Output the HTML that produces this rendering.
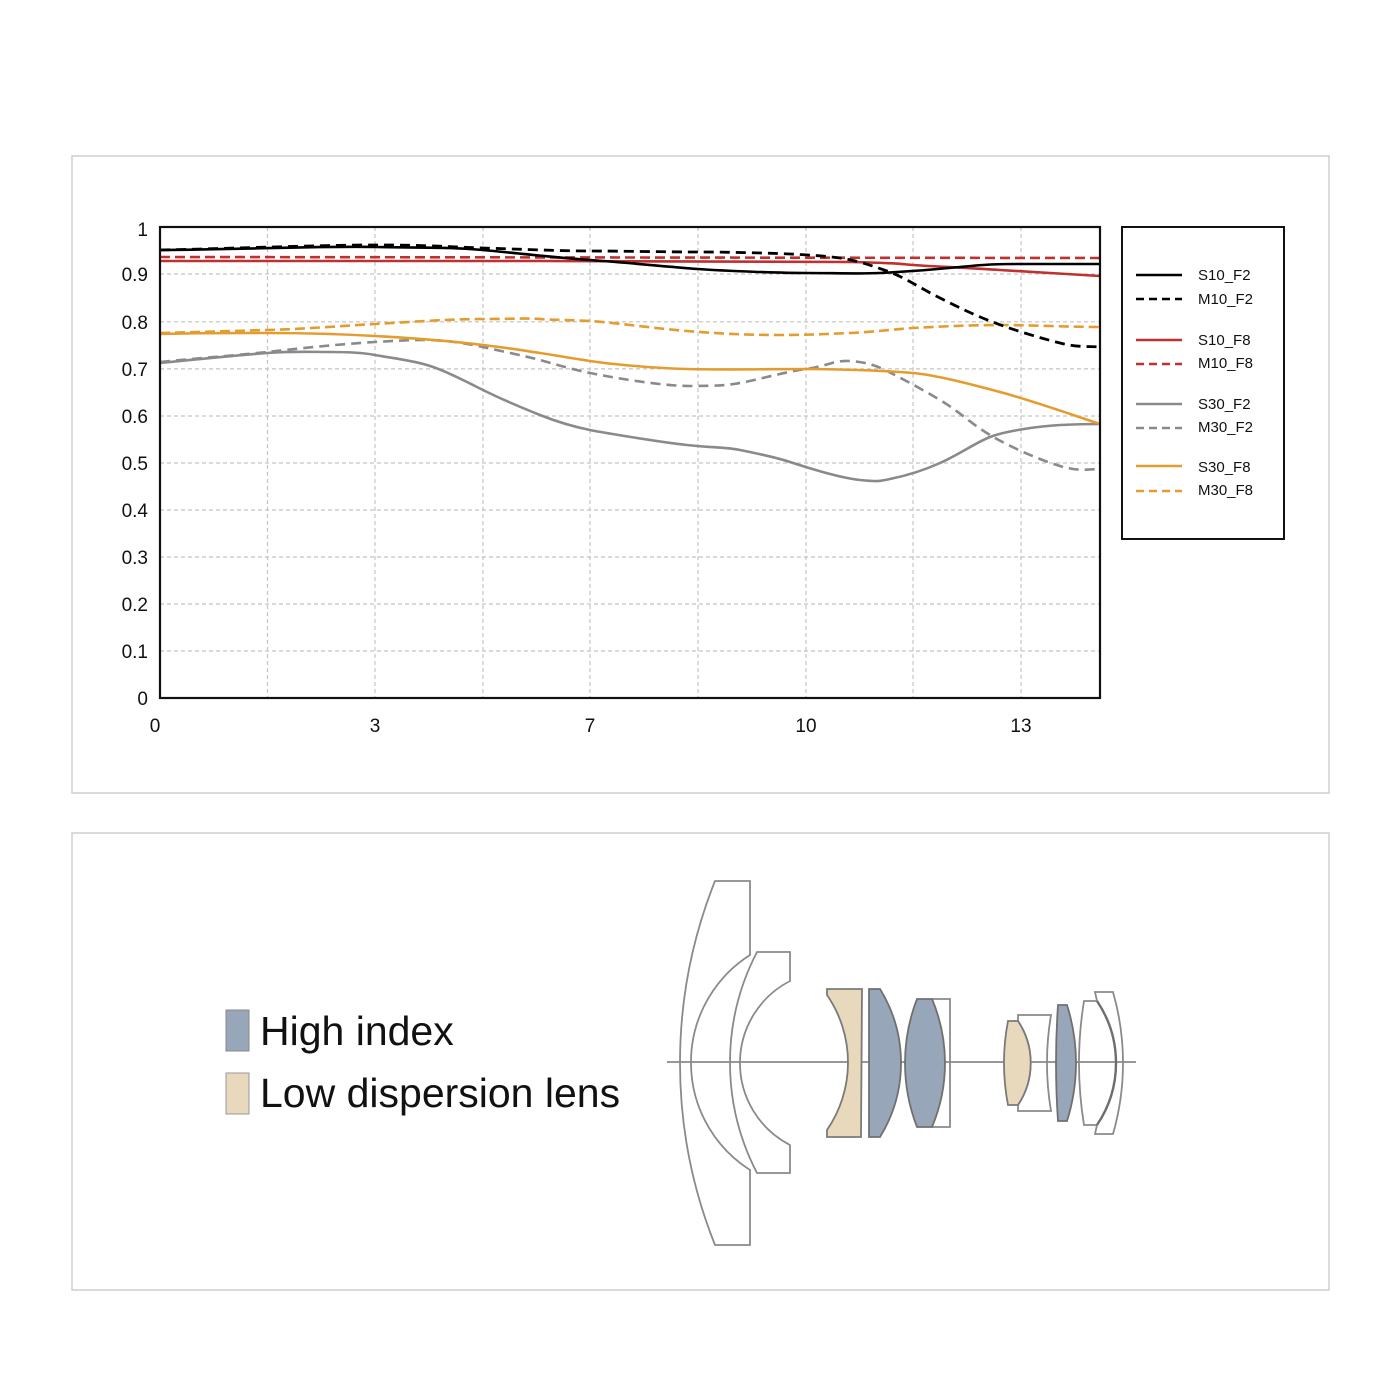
<!DOCTYPE html>
<html>
<head>
<meta charset="utf-8">
<style>
  html,body{margin:0;padding:0;background:#fff;}
  svg{display:block;}
  text{font-family:"Liberation Sans",sans-serif;fill:#111;}
</style>
</head>
<body>
<svg width="1400" height="1400" viewBox="0 0 1400 1400" xmlns="http://www.w3.org/2000/svg">
  <rect x="0" y="0" width="1400" height="1400" fill="#fff"/>
  <!-- panels -->
  <rect x="72" y="156" width="1257" height="637" fill="#fff" stroke="#cfcfcf" stroke-width="1.5"/>
  <rect x="72" y="833" width="1257" height="457" fill="#fff" stroke="#cfcfcf" stroke-width="1.5"/>

  <!-- grid -->
  <g stroke="#c4c4c4" stroke-width="1.2" stroke-dasharray="4,3" fill="none">
    <line x1="160" y1="274" x2="1100" y2="274"/>
    <line x1="160" y1="321.8" x2="1100" y2="321.8"/>
    <line x1="160" y1="368.9" x2="1100" y2="368.9"/>
    <line x1="160" y1="416" x2="1100" y2="416"/>
    <line x1="160" y1="463" x2="1100" y2="463"/>
    <line x1="160" y1="510" x2="1100" y2="510"/>
    <line x1="160" y1="557" x2="1100" y2="557"/>
    <line x1="160" y1="604" x2="1100" y2="604"/>
    <line x1="160" y1="651" x2="1100" y2="651"/>
    <line x1="267.5" y1="227" x2="267.5" y2="698"/>
    <line x1="375" y1="227" x2="375" y2="698"/>
    <line x1="483" y1="227" x2="483" y2="698"/>
    <line x1="590" y1="227" x2="590" y2="698"/>
    <line x1="698" y1="227" x2="698" y2="698"/>
    <line x1="806" y1="227" x2="806" y2="698"/>
    <line x1="913" y1="227" x2="913" y2="698"/>
    <line x1="1021" y1="227" x2="1021" y2="698"/>
  </g>

  <!-- y labels -->
  <g font-size="19" text-anchor="end">
    <text x="148" y="236">1</text>
    <text x="148" y="281">0.9</text>
    <text x="148" y="329">0.8</text>
    <text x="148" y="376">0.7</text>
    <text x="148" y="423">0.6</text>
    <text x="148" y="470">0.5</text>
    <text x="148" y="517">0.4</text>
    <text x="148" y="564">0.3</text>
    <text x="148" y="611">0.2</text>
    <text x="148" y="658">0.1</text>
    <text x="148" y="705">0</text>
  </g>
  <!-- x labels -->
  <g font-size="19" text-anchor="middle">
    <text x="155" y="732">0</text>
    <text x="375" y="732">3</text>
    <text x="590" y="732">7</text>
    <text x="806" y="732">10</text>
    <text x="1021" y="732">13</text>
  </g>

  <!-- curves -->
  <g fill="none" stroke-width="2.6" stroke-linecap="butt">
    <!-- S30_F2 gray solid -->
    <path stroke="#8a8a8a" d="M160,363 C200,359 240,355 267,353 S310,352 330,352 S365,353 375,355 S410,360 427,365 S465,381 483,390 S525,409 540,415 S575,427 590,430 S660,442 687,445 S725,447 740,450 S775,457 790,462 S840,478 860,480 S880,481 890,479 S920,472 940,463 S975,443 990,437 S1040,426 1060,425 S1090,424 1100,424"/>
    <!-- M30_F2 gray dashed -->
    <path stroke="#8a8a8a" stroke-dasharray="10,6" d="M160,362 C200,358 240,355 267,352 S340,344 375,342 S410,340 427,340 S465,343 483,347 S525,356 540,360 S570,369 590,373 S660,386 690,386 S730,385 745,382 S785,372 806,369 S835,360 850,361 S875,365 887,371 S920,388 940,400 S970,423 990,435 S1040,460 1060,466 S1090,469 1100,469"/>
    <!-- S30_F8 orange solid -->
    <path stroke="#e49c2e" d="M160,334 C200,333 230,333 267,333 S340,334 375,336 S450,341 483,345 S520,350 540,353 S570,358 590,361 S650,368 687,369 S770,369 806,369 S890,371 913,373 S970,384 1000,392 S1070,414 1100,424"/>
    <!-- M30_F8 orange dashed -->
    <path stroke="#e49c2e" stroke-dasharray="10,5" d="M160,333 C200,332 230,331 267,330 S340,326 375,324 S450,319 483,319 S525,318 540,319 S570,320 590,321 S650,328 687,331 S750,335 780,335 S825,334 850,333 S895,329 913,328 S970,325 1000,325 S1070,327 1100,327"/>
    <!-- S10_F8 red solid -->
    <path stroke="#c0302f" d="M160,261 L540,261 C700,261 800,261 850,262 S900,264 913,265 S970,268 1000,270 S1070,274 1100,276"/>
    <!-- M10_F8 red dashed -->
    <path stroke="#c0302f" stroke-dasharray="10,5" d="M160,257 L1100,258"/>
    <!-- S10_F2 black solid -->
    <path stroke="#000" d="M160,250 C260,249 320,246 375,247 S450,247 483,250 S560,258 590,260 S670,267 698,269 S780,273 806,273 S860,274 880,273 S930,270 960,267 S1000,264 1021,264 S1080,264 1100,264"/>
    <!-- M10_F2 black dashed -->
    <path stroke="#000" stroke-width="2.8" stroke-dasharray="10,6" d="M160,250 C250,248 320,245 375,245 S450,247 483,248 S560,251 590,251 S670,252 698,252 S770,253 790,254 S825,256 840,258 S870,265 887,271 S920,288 940,298 S970,313 990,321 S1040,338 1060,343 S1090,346 1100,347"/>
  </g>

  <!-- axes box -->
  <rect x="160" y="227" width="940" height="471" fill="none" stroke="#111" stroke-width="2.2"/>

  <!-- legend -->
  <rect x="1122" y="227" width="162" height="312" fill="#fff" stroke="#111" stroke-width="2"/>
  <g stroke-width="2.6" fill="none">
    <line x1="1136" y1="275" x2="1182" y2="275" stroke="#000"/>
    <line x1="1136" y1="299" x2="1182" y2="299" stroke="#000" stroke-dasharray="8,5"/>
    <line x1="1136" y1="340" x2="1182" y2="340" stroke="#c0302f"/>
    <line x1="1136" y1="364" x2="1182" y2="364" stroke="#c0302f" stroke-dasharray="8,5"/>
    <line x1="1136" y1="404" x2="1182" y2="404" stroke="#8a8a8a"/>
    <line x1="1136" y1="428" x2="1182" y2="428" stroke="#8a8a8a" stroke-dasharray="8,5"/>
    <line x1="1136" y1="466" x2="1182" y2="466" stroke="#e49c2e"/>
    <line x1="1136" y1="491" x2="1182" y2="491" stroke="#e49c2e" stroke-dasharray="8,5"/>
  </g>
  <g font-size="15">
    <text x="1198" y="280">S10_F2</text>
    <text x="1198" y="304">M10_F2</text>
    <text x="1198" y="345">S10_F8</text>
    <text x="1198" y="368">M10_F8</text>
    <text x="1198" y="409">S30_F2</text>
    <text x="1198" y="432">M30_F2</text>
    <text x="1198" y="472">S30_F8</text>
    <text x="1198" y="495">M30_F8</text>
  </g>

  <!-- bottom legend -->
  <rect x="226" y="1010" width="23" height="41" fill="#98a6b9" stroke="#888" stroke-width="1"/>
  <rect x="226" y="1073" width="23" height="41" fill="#e8d8bc" stroke="#999" stroke-width="1"/>
  <text x="260" y="1045" font-size="41">High index</text>
  <text x="260" y="1107" font-size="41">Low dispersion lens</text>

  <!-- lens diagram -->
  <line x1="667" y1="1062" x2="1136" y2="1062" stroke="#8a8a8a" stroke-width="1.8"/>
  <g stroke="#8a8a8a" stroke-width="1.8" stroke-linejoin="miter">
    <!-- element 1 -->
    <path fill="none" d="M715,881 L750,881 L750,955 A127.4,127.4 0 0 0 750,1170 L750,1245 L715,1245 A490.7,490.7 0 0 1 715,881 Z"/>
    <!-- element 2 -->
    <path fill="none" d="M757,952 L790,952 L790,981 A92.2,92.2 0 0 0 790,1145 L790,1173 L757,1173 A239.6,239.6 0 0 1 757,952 Z"/>
    <!-- element 3 beige -->
    <path fill="#e8d8bc" stroke="#7a7a7a" d="M827,989 L862,989 L861,1137 L827,1137 L827,1130 A119,119 0 0 0 827,995 Z"/>
    <!-- element 4 blue -->
    <path fill="#98a6b9" stroke="#707070" d="M869,989 L880,989 A140.9,140.9 0 0 1 880,1137 L869,1137 Z"/>
    <!-- element 5 white box -->
    <path fill="none" d="M932,999 L950,999 L950,1127 L932,1127"/>
    <!-- element 5 blue -->
    <path fill="#98a6b9" stroke="#707070" d="M917,999 L932,999 A164,164 0 0 1 932,1127 L917,1127 A176.7,176.7 0 0 1 917,999 Z"/>
    <!-- element 7 white -->
    <path fill="none" d="M1018,1015 L1051,1015 A290,290 0 0 0 1051,1111 L1018,1111 L1018,1105 A75.8,75.8 0 0 0 1018,1021 Z"/>
    <!-- element 6 beige -->
    <path fill="#e8d8bc" stroke="#7a7a7a" d="M1008,1021 L1018,1021 A75.8,75.8 0 0 1 1018,1105 L1008,1105 A222.5,222.5 0 0 1 1008,1021 Z"/>
    <!-- element 8 blue -->
    <path fill="#98a6b9" stroke="#707070" d="M1058,1005 L1067,1005 A191.4,191.4 0 0 1 1067,1121 L1058,1121 A842,842 0 0 1 1058,1005 Z"/>
    <!-- element 10 white -->
    <path fill="none" d="M1095,992 L1113,992 A257,257 0 0 1 1113,1134 L1095,1134 L1097,1125 A110.7,110.7 0 0 0 1097,1001 Z"/>
    <!-- element 9 white -->
    <path fill="none" d="M1084,1001 L1097,1001 A110.7,110.7 0 0 1 1097,1125 L1084,1125 A386.9,386.9 0 0 1 1084,1001 Z"/>
    <path fill="none" stroke="#6e6e6e" stroke-width="2.4" d="M1097,1001 A110.7,110.7 0 0 1 1097,1125"/>
  </g>
</svg>
</body>
</html>
